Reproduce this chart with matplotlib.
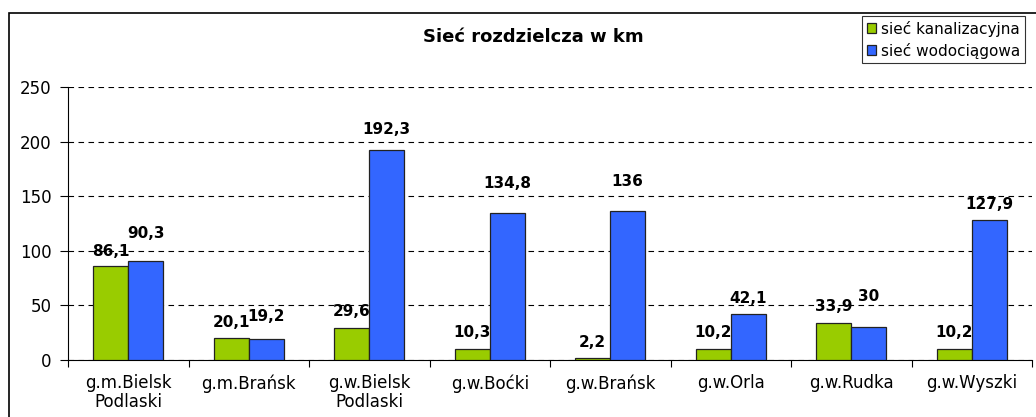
#!/usr/bin/env python3
import numpy as np
import matplotlib.pyplot as plt
from matplotlib.patches import Rectangle

plt.rcParams['font.family'] = ['DejaVu Sans']

categories = ["g.m.Bielsk\nPodlaski", "g.m.Brańsk", "g.w.Bielsk\nPodlaski", "g.w.Boćki",
              "g.w.Brańsk", "g.w.Orla", "g.w.Rudka", "g.w.Wyszki"]
kanalizacja = [86.1, 20.1, 29.6, 10.3, 2.2, 10.2, 33.9, 10.2]
wodociagi = [90.3, 19.2, 192.3, 134.8, 136, 42.1, 30, 127.9]
series_names = ["sieć kanalizacyjna", "sieć wodociągowa"]

# label lift above bar top (pixels), as placed in the original
green_lift = [14, 16, 16, 16, 15, 16, 16, 16]
blue_lift = [28, 23, 21, 29, 30, 16, 31, 16]

W, H = 1036, 417
fig = plt.figure(figsize=(W / 100, H / 100), dpi=100)

# outer chart frame (runs off the right/bottom edge)
fig.patches.append(Rectangle((9 / W, -0.1), 1.2, 1.1 - 13 / H, transform=fig.transFigure,
                             fill=False, edgecolor='black', linewidth=1.2))

ax = fig.add_axes([68 / W, 1 - 360 / H, (1032 - 68) / W, (360 - 87) / H])

x = np.arange(len(categories))
bw = 0.29
b1 = ax.bar(x - bw / 2, kanalizacja, bw, color='#99CC00', edgecolor='#222222', linewidth=0.9, zorder=3)
b2 = ax.bar(x + bw / 2, wodociagi, bw, color='#3366FF', edgecolor='#222222', linewidth=0.9, zorder=3)

for bars, vals, lifts in [(b1, kanalizacja, green_lift), (b2, wodociagi, blue_lift)]:
    for rect, v, lift in zip(bars, vals, lifts):
        txt = f"{v:g}".replace('.', ',')
        ax.annotate(txt, (rect.get_x() + rect.get_width() / 2, rect.get_height()),
                    xytext=(0, lift), textcoords='offset pixels', ha='center', va='center',
                    fontsize=11, fontweight='bold', zorder=5)

ax.set_xlim(-0.5, len(categories) - 0.5)
ax.set_ylim(0, 250)
ax.set_yticks(np.arange(0, 251, 50))
ax.tick_params(axis='y', labelsize=12, length=6, width=0.8, pad=6)
ax.set_xticks(np.arange(-0.5, len(categories), 1))
ax.set_xticklabels([])
ax.tick_params(axis='x', length=5, width=0.8, direction='out')
for xi, lab in zip(x, categories):
    ax.text(xi, -13, lab, ha='center', va='top', fontsize=12, linespacing=1.05,
            transform=ax.transData)

ax.yaxis.grid(True, linestyle=(0, (5, 4)), color='black', linewidth=0.8, zorder=0)
ax.set_axisbelow(True)
for s in ['top', 'right']:
    ax.spines[s].set_visible(False)
ax.spines['left'].set_linewidth(0.8)
ax.spines['bottom'].set_linewidth(0.8)

fig.text(533 / W, 1 - 37 / H, "Sieć rozdzielcza w km", ha='center', va='center',
         fontsize=13, fontweight='bold')

leg = fig.legend([b1, b2], series_names, loc='upper right',
                 bbox_to_anchor=(1025 / W, 1 - 16 / H), fontsize=11, frameon=True,
                 fancybox=False, edgecolor='black', handlelength=0.6, handleheight=0.6,
                 handletextpad=0.35, borderpad=0.3, labelspacing=0.4, borderaxespad=0)
leg.get_frame().set_linewidth(0.8)

fig.savefig("out.png", dpi=100)
